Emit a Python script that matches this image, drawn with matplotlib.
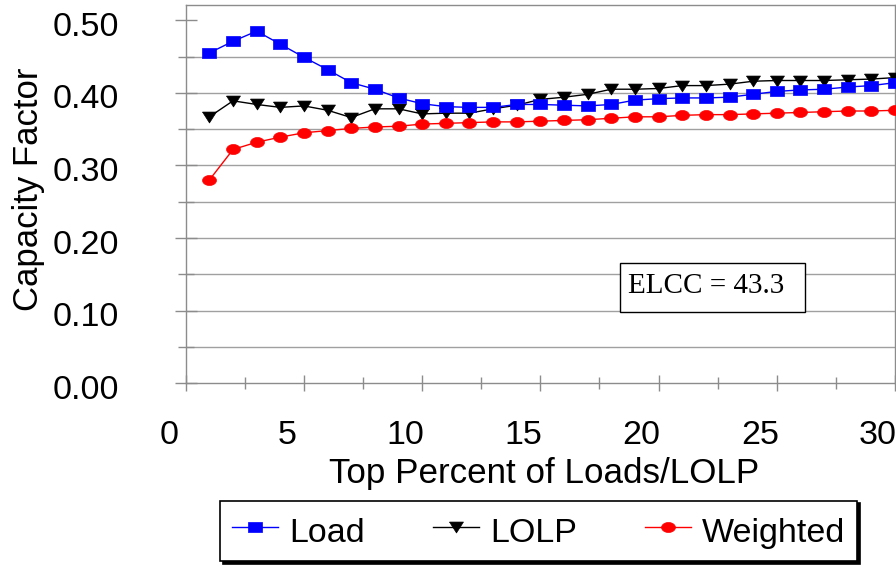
import numpy as np
import matplotlib
matplotlib.use('Agg')
import matplotlib.pyplot as plt
from matplotlib.patches import Rectangle
from matplotlib.transforms import ScaledTranslation

plt.rcParams['font.family'] = 'Liberation Sans'

# top percent of loads / LOLP (x) and capacity factor of each series
pct = np.arange(1, 31)
load = [0.455, 0.471, 0.485, 0.467, 0.449, 0.432, 0.414, 0.405, 0.393, 0.385,
        0.381, 0.380, 0.380, 0.384, 0.384, 0.383, 0.382, 0.384, 0.390, 0.392,
        0.393, 0.393, 0.394, 0.398, 0.402, 0.404, 0.405, 0.408, 0.410, 0.414]
lolp = [0.367, 0.389, 0.384, 0.380, 0.382, 0.376, 0.366, 0.378, 0.378, 0.371,
        0.372, 0.372, 0.378, 0.383, 0.391, 0.394, 0.398, 0.405, 0.405, 0.406,
        0.410, 0.410, 0.412, 0.416, 0.417, 0.417, 0.417, 0.418, 0.419, 0.421]
weighted = [0.280, 0.322, 0.332, 0.339, 0.345, 0.348, 0.351, 0.353, 0.354, 0.357,
            0.358, 0.359, 0.360, 0.360, 0.361, 0.362, 0.363, 0.365, 0.367, 0.367,
            0.369, 0.370, 0.370, 0.371, 0.372, 0.373, 0.374, 0.375, 0.375, 0.376]
elcc_text = 'ELCC = 43.3'

# markers are a bit wider than tall in the original
sq = [(-1, -0.72), (1, -0.72), (1, 0.72), (-1, 0.72), (-1, -0.72)]
tri = [(-1, 0.785), (1, 0.785), (0, -0.785), (-1, 0.785)]
t = np.linspace(0, 2 * np.pi, 40)
ell = list(zip(np.cos(t), 0.72 * np.sin(t)))

fig = plt.figure(figsize=(8.96, 5.67), dpi=100)
ax = fig.add_axes([0.2073, 0.324, 0.7916, 0.6672])

ax.plot(pct, load, color='#0000ff', lw=1, marker=sq, ms=10, mew=0.5, label='Load', zorder=4)
ax.plot(pct, lolp, color='black', lw=1, marker=tri, ms=10, mew=0.5, label='LOLP', zorder=3)
ax.plot(pct, weighted, color='#ff0000', lw=1, marker=ell, ms=10, mew=0.5, label='Weighted', zorder=5)

ax.set_xlim(0, 30)
ax.set_ylim(0, 0.521)

# horizontal grid (no line at 0.50 in the original)
for lev in np.arange(0.05, 0.46, 0.05):
    ax.axhline(lev, color='#a0a0a0', lw=1, zorder=1)

gray = '#8c8c8c'
for s in ax.spines.values():
    s.set_color(gray)
    s.set_linewidth(1)

ax.set_xticks(np.arange(0, 31, 5))
ax.set_xticks(np.arange(2.5, 30, 5), minor=True)
ax.set_yticks(np.arange(0, 0.51, 0.1))
ax.set_yticks(np.arange(0.05, 0.5, 0.1), minor=True)
ax.set_yticklabels(['%.2f' % v for v in np.arange(0, 0.51, 0.1)])

ax.tick_params(axis='y', which='major', direction='inout', length=16.5, width=1,
               color=gray, pad=40, labelsize=24.5)
ax.tick_params(axis='y', which='minor', direction='inout', length=11, width=1, color=gray)
ax.tick_params(axis='x', which='major', direction='inout', length=12, width=1,
               color=gray, pad=20.5, labelsize=24.5)
ax.tick_params(axis='x', which='minor', direction='inout', length=8, width=1, color=gray)

# excel shifted the x labels a bit left of their ticks
for lbl in ax.get_xticklabels():
    lbl.set_transform(lbl.get_transform() + ScaledTranslation(-0.17, 0, fig.dpi_scale_trans))
for lbl in ax.get_yticklabels():
    lbl.set_transform(lbl.get_transform() + ScaledTranslation(0, -0.035, fig.dpi_scale_trans))

ax.set_xlabel('Top Percent of Loads/LOLP', fontsize=25.2, va='center')
ax.xaxis.set_label_coords(0.5055, -0.2385)
ax.set_ylabel('Capacity Factor', fontsize=25, va='center')
ax.yaxis.set_label_coords(-0.221, 0.514)

# ELCC box
ax.add_patch(Rectangle((18.37, 0.0986), 7.83, 0.0675, facecolor='white',
                       edgecolor='black', lw=1, zorder=6))
ax.text(22.0, 0.1335, elcc_text, ha='center', va='center', fontsize=21,
        family='Liberation Serif', zorder=7)

leg = ax.legend(loc='center', bbox_to_anchor=(0.6012, 0.0635), bbox_transform=fig.transFigure,
                ncol=3, fontsize=24.5, frameon=True, fancybox=False,
                shadow={'color': 'black', 'alpha': 1}, framealpha=1,
                handlelength=1.35, handletextpad=0.33, columnspacing=2.0, borderpad=0.35,
                handleheight=1.3, borderaxespad=0)
leg.get_frame().set_edgecolor('black')
leg.get_frame().set_linewidth(1.2)

fig.savefig('out.png', dpi=100)
